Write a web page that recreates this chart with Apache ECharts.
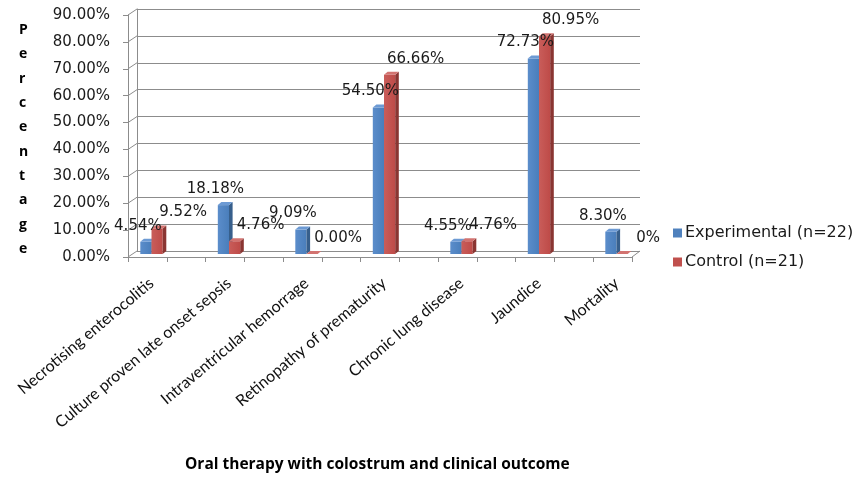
<!DOCTYPE html>
<html><head><meta charset="utf-8">
<script src="https://cdn.jsdelivr.net/npm/echarts@6/dist/echarts.min.js"></script>
<style>html,body{margin:0;padding:0;background:#fff}#c{width:856px;height:477px}</style>
</head><body><div id="c"></div>
<script>
const categories = ['Necrotising enterocolitis','Culture proven late onset sepsis','Intraventricular hemorrage','Retinopathy of prematurity','Chronic lung disease','Jaundice','Mortality'];
const experimental = [4.54, 18.18, 9.09, 54.50, 4.55, 72.73, 8.30];
const control = [9.52, 4.76, 0.00, 66.66, 4.76, 80.95, 0];
const experimentalLabels = ['4.54%','18.18%','9.09%','54.50%','4.55%','72.73%','8.30%'];
const controlLabels = ['9.52%','4.76%','0.00%','66.66%','4.76%','80.95%','0%'];
const seriesNames = ['Experimental (n=22)','Control (n=21)'];
const yMax = 90, yStep = 10;

const chart = echarts.init(document.getElementById('c'));
const gridColor = '#8c8c8c';
const numFont = 'DejaVu Sans';
const catFont = 'Lato';

// layout
const F = {left:128, top:15, width:504, height:242};   // front axis plane
const B = {left:137, top:9, width:503, height:242};    // back wall
const D = {left:112.75, top:12, width:542.5, height:242}; // bars (mid depth)
const BW = 11.2, DX = 3.6, DY = 3;

function barBox(api, dir) {
  const i = api.value(0), v = api.value(1);
  const top = api.coord([i, v]);
  const base = api.coord([i, 0]);
  const x0 = dir < 0 ? top[0] - BW : top[0];
  return {i, x0, x1: x0 + BW, yT: top[1], yB: base[1]};
}

function bar3d(colors, dir) {
  return function(params, api) {
    const b = barBox(api, dir);
    return {
      type: 'group',
      children: [
        {type:'rect', shape:{x:b.x0, y:b.yT, width:BW, height:Math.max(0,b.yB-b.yT)},
         style:{fill:new echarts.graphic.LinearGradient(0,0,1,0,[{offset:0,color:colors[3]},{offset:1,color:colors[0]}])}},
        {type:'polygon', shape:{points:[[b.x1,b.yT],[b.x1+DX,b.yT-DY],[b.x1+DX,b.yB-DY],[b.x1,b.yB]]}, style:{fill:colors[1]}},
        {type:'polygon', shape:{points:[[b.x0,b.yT],[b.x0+DX,b.yT-DY],[b.x1+DX,b.yT-DY],[b.x1,b.yT]]}, style:{fill:colors[2]}}
      ]
    };
  };
}

function barLabel(dir, labels, ldx) {
  return function(params, api) {
    const b = barBox(api, dir);
    return {type:'text', x:(b.x0+b.x1)/2 + ldx, y:b.yT - 16,
      style:{text:labels[b.i], font:'15px "'+numFont+'"', fill:'#1a1a1a', align:'center', verticalAlign:'middle'}};
  };
}

const blueC = ['#4A7EBB','#375F8C','#6C9AD4','#5B8DCB'];
const redC = ['#BE4B48','#8A3532','#D27370','#C95D5A'];

const leftWallLines = [];
for (let k = 0; k <= yMax / yStep; k++) {
  const yF = F.top + F.height - k * yStep / yMax * F.height;
  leftWallLines.push({type:'line', shape:{x1:F.left, y1:yF, x2:B.left, y2:yF - 6}, style:{stroke:gridColor, lineWidth:1}, silent:true});
}
leftWallLines.push({type:'line', shape:{x1:F.left+F.width, y1:F.top+F.height, x2:B.left+B.width, y2:B.top+B.height}, style:{stroke:gridColor, lineWidth:1}, silent:true});

const ticksCount = 13;
const frontCats = Array.from({length: ticksCount}, () => '');

chart.setOption({
  animation: false,
  backgroundColor: '#fff',
  grid: [
    {left:B.left, top:B.top, width:B.width, height:B.height},
    {left:F.left, top:F.top, width:F.width, height:F.height},
    {left:D.left, top:D.top, width:D.width, height:D.height}
  ],
  xAxis: [
    {gridIndex:0, type:'category', data:frontCats, show:false},
    {gridIndex:1, type:'category', data:frontCats, boundaryGap:true,
     axisLine:{lineStyle:{color:gridColor}}, axisTick:{show:true, length:5, lineStyle:{color:gridColor}}, axisLabel:{show:false}},
    {gridIndex:2, type:'category', data:categories,
     axisLine:{show:false}, axisTick:{show:false},
     axisLabel:{rotate:40, margin:27, interval:0, color:'#111', fontFamily:catFont, fontSize:16}}
  ],
  yAxis: [
    {gridIndex:0, type:'value', min:0, max:yMax, interval:yStep,
     axisLine:{show:true, lineStyle:{color:gridColor}}, axisTick:{show:false}, axisLabel:{show:false},
     splitLine:{lineStyle:{color:gridColor, width:1}}},
    {gridIndex:1, type:'value', min:0, max:yMax, interval:yStep,
     axisLine:{show:true, lineStyle:{color:gridColor}}, axisTick:{show:true, length:5, lineStyle:{color:gridColor}},
     axisLabel:{margin:18, color:'#1a1a1a', fontFamily:numFont, fontSize:15, formatter: v => v.toFixed(2) + '%'},
     splitLine:{show:false}},
    {gridIndex:2, type:'value', min:0, max:yMax, show:false, splitLine:{show:false}}
  ],
  legend: {
    orient:'vertical', left:668, top:220, itemWidth:9, itemHeight:9, itemGap:13, icon:'rect',
    textStyle:{fontFamily:numFont, fontSize:16, color:'#1a1a1a', padding:[0,0,0,-2]},
    data: seriesNames
  },
  graphic: leftWallLines.concat([
    {type:'text', left:19, top:18, style:{text:'P\ne\nr\nc\ne\nn\nt\na\ng\ne', font:'bold 14px "Open Sans"', fill:'#000', align:'center', lineHeight:24.3}},
    {type:'text', left:185, top:457, style:{text:'Oral therapy with colostrum and clinical outcome', font:'bold 15.5px "Open Sans"', fill:'#000'}}
  ]),
  series: [
    {name:seriesNames[0], type:'custom', xAxisIndex:2, yAxisIndex:2, itemStyle:{color:'#4F81BD'},
     renderItem: bar3d(blueC, -1), data: experimental.map((v,i)=>[i,v]), clip:false, z:2},
    {name:seriesNames[1], type:'custom', xAxisIndex:2, yAxisIndex:2, itemStyle:{color:'#C0504D'},
     renderItem: bar3d(redC, 1), data: control.map((v,i)=>[i,v]), clip:false, z:2},
    {name:'expLabels', type:'custom', xAxisIndex:2, yAxisIndex:2,
     renderItem: barLabel(-1, experimentalLabels, -8), data: experimental.map((v,i)=>[i,v]), clip:false, z:5, silent:true},
    {name:'ctlLabels', type:'custom', xAxisIndex:2, yAxisIndex:2,
     renderItem: barLabel(1, controlLabels, 26), data: control.map((v,i)=>[i,v]), clip:false, z:5, silent:true}
  ]
});
</script></body></html>
